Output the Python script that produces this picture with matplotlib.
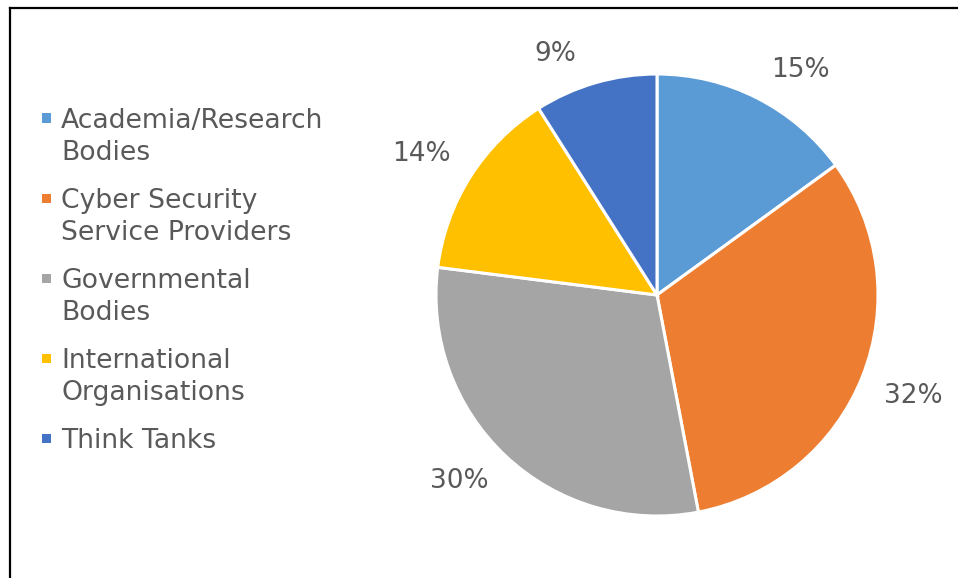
import numpy as np
import matplotlib
matplotlib.use("Agg")
import matplotlib.pyplot as plt
from matplotlib.patches import Rectangle
from matplotlib.lines import Line2D

categories = ["Academia/Research\nBodies", "Cyber Security\nService Providers",
              "Governmental\nBodies", "International\nOrganisations", "Think Tanks"]
shares = [15, 32, 30, 14, 9]
colors = ["#5B9BD5", "#ED7D31", "#A5A5A5", "#FFC000", "#4472C4"]
text_color = "#595959"
font = "DejaVu Sans"

W, H = 958, 578
fig = plt.figure(figsize=(W / 100, H / 100), dpi=100)
fig.patch.set_facecolor("white")

# frame lines (top and left)
fig.add_artist(Line2D([9.5 / W, 1.0], [1 - 7.5 / H, 1 - 7.5 / H], transform=fig.transFigure,
                      color="black", lw=1.6))
fig.add_artist(Line2D([9.5 / W, 9.5 / W], [0.0, 1 - 7.5 / H], transform=fig.transFigure,
                      color="black", lw=1.6))

# pie
cx, cy, r = 657, 295, 221
ax = fig.add_axes([(cx - r) / W, 1 - (cy + r) / H, 2 * r / W, 2 * r / H])
wedges, _ = ax.pie(shares, colors=colors, startangle=90, counterclock=False,
                   radius=1.0, wedgeprops=dict(edgecolor="white", linewidth=2.2))
ax.set_xlim(-1, 1)
ax.set_ylim(-1, 1)
ax.set_aspect("equal")
ax.axis("off")

# percentage labels just outside each slice
total = sum(shares)
for w, v in zip(wedges, shares):
    mid = np.deg2rad((w.theta1 + w.theta2) / 2)
    dx, dy = np.cos(mid), np.sin(mid)
    ax.annotate(f"{round(100 * v / total)}%", xy=(1.07 * dx, 1.07 * dy),
                xytext=(np.sign(dx) * 26, np.sign(dy) * 10), textcoords="offset points",
                ha="center", va="center", fontsize=19, color=text_color, family=font,
                annotation_clip=False)

# legend
fs = 19.2
line_h = 32
gap = 48
y = 118
for lab, col in zip(categories, colors):
    fig.add_artist(Rectangle((41.5 / W, 1 - (y + 4.5) / H), 9 / W, 9 / H,
                             transform=fig.transFigure, facecolor=col, edgecolor="none"))
    lines = lab.split("\n")
    for i, ln in enumerate(lines):
        fig.text(61 / W, 1 - (y + i * line_h) / H, ln, ha="left", va="center_baseline",
                 fontsize=fs, color=text_color, family=font)
    y += (len(lines) - 1) * line_h + gap

fig.savefig("out.png", dpi=100, facecolor="white")
